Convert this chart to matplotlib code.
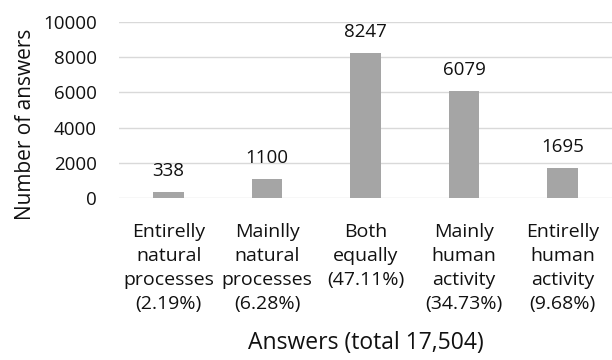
"""Bar chart of answers about the cause of climate change."""

import matplotlib

matplotlib.use("Agg")
import matplotlib.pyplot as plt

CATEGORIES = [
    "Entirelly\nnatural\nprocesses\n(2.19%)",
    "Mainlly\nnatural\nprocesses\n(6.28%)",
    "Both\nequally\n(47.11%)\n",
    "Mainly\nhuman\nactivity\n(34.73%)",
    "Entirelly\nhuman\nactivity\n(9.68%)",
]
COUNTS = [338, 1100, 8247, 6079, 1695]
Y_TICKS = [0, 2000, 4000, 6000, 8000, 10000]

BAR_COLOR = "#a5a5a5"
GRID_COLOR = "#d9d9d9"
TEXT_COLOR = "#111111"


def main() -> None:
    plt.rcParams["font.family"] = ["Open Sans", "DejaVu Sans"]

    fig = plt.figure(figsize=(6.12, 3.6), dpi=100)
    ax = fig.add_axes([0.195, 0.45, 0.805, 0.489])

    positions = list(range(len(COUNTS)))
    bars = ax.bar(positions, COUNTS, width=0.31, color=BAR_COLOR, zorder=2)

    for rect, value in zip(bars, COUNTS):
        ax.annotate(
            f"{value}",
            xy=(rect.get_x() + rect.get_width() / 2, rect.get_height()),
            xytext=(0, 15),
            textcoords="offset points",
            ha="center",
            va="center",
            fontsize=13.5,
            color=TEXT_COLOR,
        )

    ax.set_xlim(-0.5, len(COUNTS) - 0.5)
    ax.set_ylim(0, 10000)
    ax.set_yticks(Y_TICKS)
    ax.set_yticklabels([str(t) for t in Y_TICKS], fontsize=13.5, color=TEXT_COLOR)
    ax.set_xticks(positions)
    ax.set_xticklabels(CATEGORIES, fontsize=14, color=TEXT_COLOR, linespacing=1.42, va="top")
    ax.tick_params(axis="y", length=0, pad=16)
    ax.tick_params(axis="x", length=0, pad=18)

    ax.grid(True, axis="y", color=GRID_COLOR, linewidth=1.0, zorder=0)
    for spine in ax.spines.values():
        spine.set_visible(False)

    fig.text(0.598, 0.047, "Answers (total 17,504)", ha="center", va="center",
             fontsize=16.5, color=TEXT_COLOR)
    fig.text(0.042, 0.656, "Number of answers", ha="center", va="center",
             rotation=90, fontsize=15, color=TEXT_COLOR)

    fig.savefig("out.png", dpi=100)
    plt.close(fig)


if __name__ == "__main__":
    main()
